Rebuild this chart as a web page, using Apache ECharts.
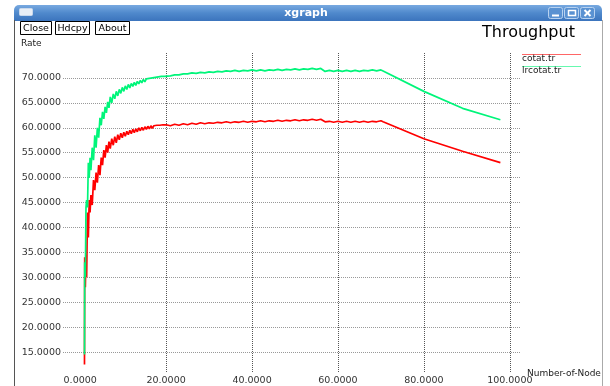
<!DOCTYPE html>
<html><head><meta charset="utf-8">
<script src="https://cdn.jsdelivr.net/npm/echarts@6/dist/echarts.min.js"></script>
<style>html,body{margin:0;padding:0;background:#fff}#c{width:610px;height:386px}</style>
</head><body><div id="c"></div>
<script>
const nodes = [1.0,1.05,1.2,1.35,1.5,1.7,1.9,2.1,2.3,2.5,2.8,3.1,3.4,3.7,4.0,4.3,4.6,4.9,5.2,5.5,5.8,6.1,6.4,6.7,7.0,7.35,7.7,8.05,8.4,8.75,9.1,9.45,9.8,10.15,10.5,10.85,11.2,11.55,11.9,12.25,12.6,12.95,13.3,13.65,14.0,14.35,14.7,15.05,15.4,15.75,16.1,16.45,16.8,17.15,17.5,17.85,18.2,18.55,18.9,19.25,19.6,20.0,
  21,22,23,24,25,26,27,28,29,30,31,32,33,34,35,36,37,38,39,40,41,42,43,44,45,46,47,48,49,50,51,52,53,54,55,56,57,58,59,60,61,62,63,64,65,66,67,68,69,70,
  70.5,80,89,97.8];
const cotat = [12.5,34,28,34.5,30,43,38,45.5,43,46.5,44.5,49.5,47.5,51,49,52.5,50.5,54,52.5,55.5,54,56.5,55,57.2,55.8,57.8,56.5,58.2,57,58.6,57.6,58.9,58,59.1,58.3,59.3,58.6,59.5,58.8,59.7,59,59.8,59.2,60,59.4,60.1,59.5,60.2,59.7,60.3,59.8,60.4,59.9,60.4,60.0,60.5,60.1,60.5,60.2,60.6,60.3,60.6,
  60.4,60.7,60.5,60.8,60.6,60.9,60.7,61.0,60.8,61.0,60.9,61.1,61.0,61.2,61.0,61.2,61.1,61.3,61.1,61.3,61.2,61.4,61.2,61.4,61.3,61.5,61.3,61.5,61.4,61.6,61.4,61.6,61.5,61.7,61.5,61.7,61.2,61.3,61.1,61.3,61.1,61.3,61.1,61.3,61.1,61.3,61.1,61.3,61.2,61.4,
  61.2,57.8,55.3,53.0];
const lrcotat = [14.5,33,30,44,45.5,44,53,50,54,51.5,56,53.5,58.5,56,60,58,62,60.5,63.2,61.8,64.2,63,65.2,64,66.2,65,66.8,65.8,67.3,66.4,67.7,66.9,68.1,67.3,68.4,67.7,68.7,68,68.9,68.3,69.1,68.5,69.3,68.8,69.5,69,69.7,69.2,69.8,69.4,69.9,69.5,70.0,69.6,70.1,69.7,70.2,69.8,70.3,69.9,70.3,70.0,
  70.4,70.6,70.6,70.8,70.8,71.0,70.9,71.1,71.0,71.2,71.1,71.3,71.2,71.4,71.3,71.5,71.3,71.5,71.4,71.6,71.4,71.6,71.4,71.6,71.5,71.7,71.5,71.7,71.6,71.8,71.6,71.8,71.7,71.9,71.7,71.9,71.3,71.5,71.3,71.5,71.3,71.5,71.3,71.5,71.3,71.5,71.4,71.6,71.4,71.6,
  71.4,67.3,63.9,61.6];
const xLabelTicks = [0,20,40,60,80,100];
const xGridTicks = [20,40,60,80,100];
const yTicks = [15,20,25,30,35,40,45,50,55,60,65,70];
const seriesNames = ['cotat.tr','lrcotat.tr'];
const seriesColors = ['#ff0000','#00f57a'];
const chartTitle = 'Throughput';
const windowTitle = 'xgraph';
const buttons = ['Close','Hdcpy','About'];

const chart = echarts.init(document.getElementById('c'), null, {renderer:'canvas'});
const fmt = v => Number(v).toFixed(4);
const font = 'DejaVu Sans';
const pair = arr => nodes.map((x,i)=>[x,arr[i]]);

const btnBoxes = [[20.5,31],[55.5,34],[95.5,34]];
const graphic = [
  {type:'rect', shape:{x:14,y:5,width:588,height:16,r:[5,5,0,0]},
   style:{fill:new echarts.graphic.LinearGradient(0,0,0,1,[{offset:0,color:'#78a9e0'},{offset:0.5,color:'#4f89cc'},{offset:1,color:'#3b74bd'}])}},
  {type:'line', shape:{x1:14.5,y1:20,x2:14.5,y2:386}, style:{stroke:'#555',lineWidth:1}},
  {type:'line', shape:{x1:602.5,y1:20,x2:602.5,y2:386}, style:{stroke:'#aaa',lineWidth:1}},
  {type:'rect', shape:{x:19.5,y:8.5,width:13,height:7,r:1}, style:{fill:'#e8eef6',stroke:'#c8d8ec',lineWidth:1}},
  {type:'text', x:306, y:13, style:{text:windowTitle, fill:'#fff', font:'bold 11px "DejaVu Sans"', textAlign:'center', textVerticalAlign:'middle', align:'center', verticalAlign:'middle'}},
  {type:'rect', shape:{x:548.5,y:7.5,width:14,height:11,r:2}, style:{fill:'#5a92d2',stroke:'#b8d2f0',lineWidth:1}},
  {type:'rect', shape:{x:564.5,y:7.5,width:14,height:11,r:2}, style:{fill:'#5a92d2',stroke:'#b8d2f0',lineWidth:1}},
  {type:'rect', shape:{x:580.5,y:7.5,width:14,height:11,r:2}, style:{fill:'#5a92d2',stroke:'#b8d2f0',lineWidth:1}},
  {type:'line', shape:{x1:552,y1:15.5,x2:559,y2:15.5}, style:{stroke:'#fff',lineWidth:2}},
  {type:'rect', shape:{x:568.5,y:10.5,width:7,height:5}, style:{fill:'none',stroke:'#fff',lineWidth:1.5}},
  {type:'line', shape:{x1:584.5,y1:10,x2:590.5,y2:16}, style:{stroke:'#fff',lineWidth:2}},
  {type:'line', shape:{x1:590.5,y1:10,x2:584.5,y2:16}, style:{stroke:'#fff',lineWidth:2}},
  {type:'text', x:482, y:33, style:{text:chartTitle, fill:'#000', font:'16px "DejaVu Sans"', textVerticalAlign:'middle', verticalAlign:'middle'}},
  {type:'text', x:21, y:44, style:{text:'Rate', fill:'#222', font:'9px "DejaVu Sans"', textVerticalAlign:'middle', verticalAlign:'middle'}},
  {type:'text', x:527, y:373.5, style:{text:'Number-of-Node', fill:'#222', font:'9px "DejaVu Sans"', textVerticalAlign:'middle', verticalAlign:'middle'}}
];
buttons.forEach((b,i)=>{
  const [bx,bw] = btnBoxes[i];
  graphic.push({type:'rect', shape:{x:bx,y:21.5,width:bw,height:13}, style:{fill:'#fff',stroke:'#000',lineWidth:1}});
  graphic.push({type:'text', x:bx+bw/2, y:28.5, style:{text:b, fill:'#000', font:'9.5px "DejaVu Sans"', textAlign:'center', textVerticalAlign:'middle', align:'center', verticalAlign:'middle'}});
});
seriesNames.forEach((n,i)=>{
  const ly = 54 + i*12;
  graphic.push({type:'line', shape:{x1:522,y1:ly+0.5,x2:581,y2:ly+0.5}, style:{stroke:seriesColors[i],lineWidth:1,opacity:0.6}});
  graphic.push({type:'text', x:522, y:ly+4.5, style:{text:n, fill:'#222', font:'9px "DejaVu Sans"', textVerticalAlign:'middle', verticalAlign:'middle'}});
});

chart.setOption({
  animation:false,
  backgroundColor:'#fff',
  grid:{left:63, right:89, top:53, bottom:13},
  xAxis:{type:'value', min:-4, max:102.6,
    axisLine:{show:false}, axisTick:{show:false, customValues:xGridTicks},
    axisLabel:{customValues:xLabelTicks, formatter:fmt, color:'#333', fontFamily:font, fontSize:9.5, margin:4},
    splitLine:{show:true, lineStyle:{type:'dotted', color:'#555', width:1}}},
  yAxis:{type:'value', min:11, max:75,
    axisLine:{show:false}, axisTick:{show:false, customValues:yTicks},
    axisLabel:{customValues:yTicks, formatter:fmt, color:'#333', fontFamily:font, fontSize:9.5, margin:2},
    splitLine:{show:true, lineStyle:{type:'dotted', color:'#999', width:1}}},
  series: seriesNames.map((n,i)=>({
    name:n, type:'line', data:pair(i===0?cotat:lrcotat), showSymbol:false, symbol:'none',
    lineStyle:{color:seriesColors[i], width:1.7}, itemStyle:{color:seriesColors[i]}, z:2+i
  })),
  graphic: graphic
});
</script></body></html>
